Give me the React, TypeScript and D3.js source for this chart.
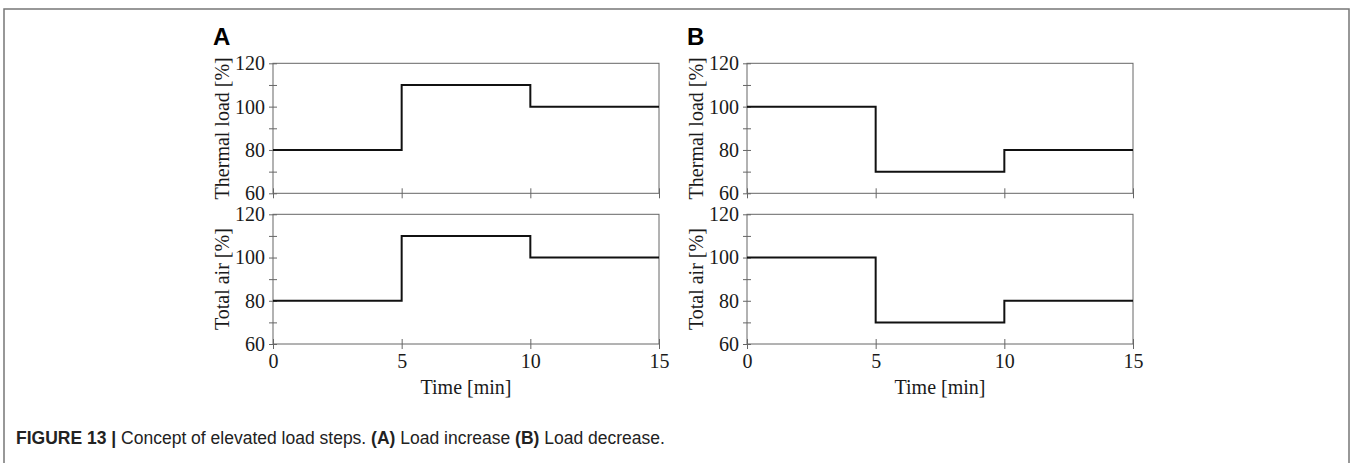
import React, { useEffect, useRef } from 'react';
import * as d3 from 'd3';

const times = [0, 5, 10, 15];
const increaseThermal = [80, 110, 100, 100];
const increaseAir = [80, 110, 100, 100];
const decreaseThermal = [100, 70, 80, 80];
const decreaseAir = [100, 70, 80, 80];
const yTicks = [60, 70, 80, 90, 100, 110, 120];
const xTicks = [0, 5, 10, 15];

const panels = [
  { letter: 'A', left: 273, right: 659, top: increaseThermal, bottom: increaseAir },
  { letter: 'B', left: 747, right: 1133, top: decreaseThermal, bottom: decreaseAir },
];

const App = () => {
  const ref = useRef<SVGSVGElement>(null);

  useEffect(() => {
    const svg = d3.select(ref.current);
    svg.selectAll('*').remove();
    const serif = '"Liberation Serif", "DejaVu Serif", serif';
    const sans = '"Liberation Sans", Arial, sans-serif';
    const axisColor = '#666';
    const fs = '20px';

    // frame around the figure
    svg.append('path')
      .attr('d', 'M4,470 V9 H1349 V470')
      .attr('fill', 'none')
      .attr('stroke', '#777')
      .attr('stroke-width', 1.5);

    const rows = [
      { key: 'top', y0: 63.3, y1: 193.3, label: 'Thermal load [%]' },
      { key: 'bottom', y0: 214.3, y1: 344, label: 'Total air [%]' },
    ];

    panels.forEach(p => {
      const x = d3.scaleLinear().domain([0, 15]).range([p.left, p.right]);

      svg.append('text')
        .attr('x', p.left - 60)
        .attr('y', 45)
        .style('font-family', sans)
        .style('font-weight', 'bold')
        .style('font-size', '24px')
        .text(p.letter);

      rows.forEach(r => {
        const y = d3.scaleLinear().domain([60, 120]).range([r.y1, r.y0]);
        const g = svg.append('g');

        // box
        g.append('rect')
          .attr('x', p.left)
          .attr('y', r.y0)
          .attr('width', p.right - p.left)
          .attr('height', r.y1 - r.y0)
          .attr('fill', 'none')
          .attr('stroke', axisColor)
          .attr('stroke-width', 1);

        const yAxis = g.append('g')
          .attr('transform', `translate(${p.left},0)`)
          .call(d3.axisLeft(y).tickValues(yTicks).tickSize(4).tickPadding(4)
            .tickFormat(d => (+d % 20 === 0 ? String(d) : '')));
        yAxis.select('.domain').remove();
        yAxis.selectAll('.tick line').attr('x1', 4).attr('stroke', axisColor);
        yAxis.selectAll('.tick text')
          .style('font-family', serif)
          .style('font-size', fs)
          .attr('fill', '#1a1a1a');

        const xAxis = g.append('g')
          .attr('transform', `translate(0,${r.y1})`)
          .call(d3.axisBottom(x).tickValues(xTicks).tickSize(5).tickPadding(5)
            .tickFormat(d => (r.key === 'bottom' ? String(d) : '')));
        xAxis.select('.domain').remove();
        xAxis.selectAll('.tick line').attr('y1', -5).attr('stroke', axisColor);
        xAxis.selectAll('.tick text')
          .style('font-family', serif)
          .style('font-size', fs)
          .attr('fill', '#1a1a1a');

        g.append('text')
          .attr('transform', `translate(${p.left - 51},${(r.y0 + r.y1) / 2}) rotate(-90)`)
          .attr('text-anchor', 'middle')
          .attr('dominant-baseline', 'central')
          .style('font-family', serif)
          .style('font-size', fs)
          .attr('fill', '#1a1a1a')
          .text(r.label);

        const values = r.key === 'top' ? p.top : p.bottom;
        const line = d3.line<number>()
          .x((d, i) => x(times[i]))
          .y(d => y(d))
          .curve(d3.curveStepAfter);

        g.append('path')
          .datum(values)
          .attr('d', line)
          .attr('fill', 'none')
          .attr('stroke', '#111')
          .attr('stroke-width', 2);
      });

      svg.append('text')
        .attr('x', (p.left + p.right) / 2)
        .attr('y', 394)
        .attr('text-anchor', 'middle')
        .style('font-family', serif)
        .style('font-size', fs)
        .attr('fill', '#1a1a1a')
        .text('Time [min]');
    });

    const caption = svg.append('text')
      .attr('x', 16)
      .attr('y', 444)
      .style('font-family', sans)
      .style('font-size', '17.5px')
      .attr('fill', '#222');
    caption.append('tspan').style('font-weight', 'bold').text('FIGURE 13 | ');
    caption.append('tspan').text('Concept of elevated load steps. ');
    caption.append('tspan').style('font-weight', 'bold').text('(A)');
    caption.append('tspan').text(' Load increase ');
    caption.append('tspan').style('font-weight', 'bold').text('(B)');
    caption.append('tspan').text(' Load decrease.');
  }, []);

  return (
    <svg ref={ref} width={1350} height={463}
      style={{ position: 'absolute', left: 0, top: 0, background: '#fff' }} />
  );
};

export default App;
